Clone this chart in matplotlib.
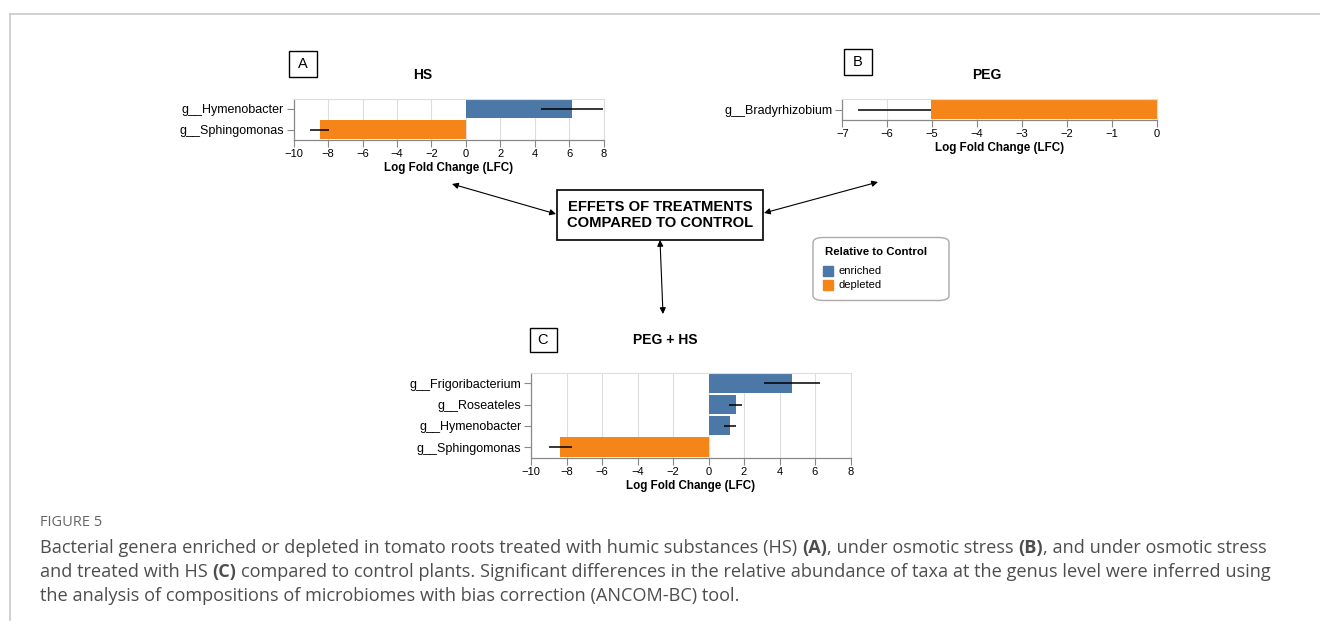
import matplotlib.pyplot as plt
from matplotlib.patches import FancyBboxPatch, Rectangle

# Log fold change per genus (ANCOM-BC), with error half-widths
hs_genera = ["g__Hymenobacter", "g__Sphingomonas"]
hs_lfc = [6.15, -8.5]
hs_err = [1.8, 0.55]

peg_genera = ["g__Bradyrhizobium"]
peg_lfc = [-5.03]
peg_err_low = [1.62]
peg_err_high = [0.0]

peghs_genera = ["g__Frigoribacterium", "g__Roseateles", "g__Hymenobacter", "g__Sphingomonas"]
peghs_lfc = [4.72, 1.53, 1.22, -8.35]
peghs_err = [1.58, 0.36, 0.34, 0.65]

legend_title = "Relative to Control"
legend_labels = ["enriched", "depleted"]

BLUE = "#4c78a8"
ORANGE = "#f58518"
W, H = 1320, 625

plt.rcParams["font.family"] = ["Liberation Sans", "DejaVu Sans"]
fig = plt.figure(figsize=(W / 100, H / 100), dpi=100)


def fx(x):
    return x / W


def fy(y):
    return 1 - y / H


def panel(left, top, right, bottom, genera, lfc, xerr, xlim, ticks):
    ax = fig.add_axes([fx(left), fy(bottom), fx(right - left), (bottom - top) / H])
    pos = list(range(len(genera)))
    colors = [BLUE if v > 0 else ORANGE for v in lfc]
    ax.barh(pos, lfc, height=0.91, color=colors, zorder=2)
    ax.errorbar(lfc, pos, xerr=xerr, fmt="none", ecolor="black",
                elinewidth=1.1, capsize=0, zorder=3)
    ax.set_xlim(*xlim)
    ax.set_ylim(len(genera) - 0.5, -0.5)
    ax.set_xticks(ticks)
    ax.set_xticklabels([f"{t:d}".replace("-", "\u2212") for t in ticks])
    ax.set_yticks(pos)
    ax.set_yticklabels(genera)
    ax.grid(axis="x", color="#dddddd", linewidth=0.8, zorder=0)
    ax.set_axisbelow(True)
    for s in ["top", "right"]:
        ax.spines[s].set_color("#dddddd")
        ax.spines[s].set_linewidth(0.8)
    for s in ["left", "bottom"]:
        ax.spines[s].set_color("#888888")
        ax.spines[s].set_linewidth(0.9)
    ax.tick_params(axis="x", length=5, color="#888888", labelsize=8, pad=1.5)
    ax.tick_params(axis="y", length=5, color="#888888", labelsize=9, pad=2)
    ax.set_xlabel("Log Fold Change (LFC)", fontsize=8.4, fontweight="bold", labelpad=2)
    return ax


def letter_box(left, top, right, bottom, letter):
    fig.patches.append(Rectangle((fx(left), fy(bottom)), fx(right - left), (bottom - top) / H,
                                 transform=fig.transFigure, fill=False,
                                 edgecolor="black", linewidth=1.0))
    fig.text(fx((left + right) / 2), fy((top + bottom) / 2), letter, ha="center",
             va="center", fontsize=10.5)


# panel A: HS
panel(293.7, 98.5, 603.5, 140, hs_genera, hs_lfc, hs_err, (-10, 8), list(range(-10, 9, 2)))
letter_box(289, 51, 317, 77, "A")
fig.text(fx(423), fy(75), "HS", ha="center", va="center", fontsize=10, fontweight="bold")

# panel B: PEG
panel(842.3, 99.3, 1156.7, 119.8, peg_genera, peg_lfc, [peg_err_low, peg_err_high],
      (-7, 0), list(range(-7, 1)))
letter_box(844, 49.5, 872, 75, "B")
fig.text(fx(987), fy(75), "PEG", ha="center", va="center", fontsize=10, fontweight="bold")

# panel C: PEG + HS
panel(531, 372.7, 850.5, 457.7, peghs_genera, peghs_lfc, peghs_err, (-10, 8), list(range(-10, 9, 2)))
letter_box(529.5, 327.5, 556.5, 351.5, "C")
fig.text(fx(665), fy(340), "PEG + HS", ha="center", va="center", fontsize=10, fontweight="bold")

# central box with arrows to each panel
fig.patches.append(Rectangle((fx(557), fy(240)), fx(206), 50 / H, transform=fig.transFigure,
                             fill=False, edgecolor="black", linewidth=1.2))
fig.text(fx(660), fy(215), "EFFETS OF TREATMENTS\nCOMPARED TO CONTROL", ha="center",
         va="center", fontsize=10.6, fontweight="bold", linespacing=1.25)
arrows = [((556, 214), (452, 184)), ((764, 213), (878, 182)), ((660, 240), (663, 314))]
for (x0, y0), (x1, y1) in arrows:
    fig.add_artist(plt.Annotation("", xy=(fx(x1), fy(y1)), xytext=(fx(x0), fy(y0)),
                                  xycoords="figure fraction", textcoords="figure fraction",
                                  arrowprops=dict(arrowstyle="<|-|>", color="black", lw=0.8,
                                                  mutation_scale=9, shrinkA=0, shrinkB=0)))

# legend
fig.patches.append(FancyBboxPatch((fx(813), fy(300.5)), fx(136), 63 / H,
                                  boxstyle="round,pad=0,rounding_size=0.008",
                                  transform=fig.transFigure, facecolor="white",
                                  edgecolor="#aaaaaa", linewidth=1.0))
fig.text(fx(825), fy(252), legend_title, ha="left", va="center", fontsize=8.2, fontweight="bold")
for i, (lab, col) in enumerate(zip(legend_labels, [BLUE, ORANGE])):
    yc = 270.5 + i * 14.5
    fig.patches.append(Rectangle((fx(823), fy(yc + 5)), fx(10), 10 / H,
                                 transform=fig.transFigure, color=col))
    fig.text(fx(838.5), fy(yc), lab, ha="left", va="center", fontsize=8)

# page frame lines
fig.add_artist(plt.Line2D([fx(9.5), 1], [fy(13.5), fy(13.5)], color="#c8c8c8", lw=1.2))
fig.add_artist(plt.Line2D([fx(9.5), fx(9.5)], [fy(13.5), fy(620)], color="#c8c8c8", lw=1.2))

# caption
cap_font = ["Open Sans", "DejaVu Sans"]
CAP_COLOR = "#4d4d4d"
fig.text(fx(40), fy(522), "FIGURE 5", ha="left", va="center", fontsize=10.5,
         color="#666666", family=cap_font)

renderer = fig.canvas.get_renderer()
cap_size = 13.1


def text_width(s, bold):
    t = fig.text(0, 0, s, fontsize=cap_size, family=cap_font,
                 fontweight="bold" if bold else "normal")
    w = t.get_window_extent(renderer).width
    t.remove()
    return w


space_w = text_width("x x", False) - text_width("xx", False)


def rich_line(x, y, parts):
    for s, bold in parts:
        lead = len(s) - len(s.lstrip(" "))
        x += lead * space_w
        body = s.strip(" ")
        t = fig.text(fx(x), fy(y), body, ha="left", va="center", fontsize=cap_size,
                     family=cap_font, color=CAP_COLOR,
                     fontweight="bold" if bold else "normal")
        x += t.get_window_extent(renderer).width
        x += (len(s) - len(s.rstrip(" "))) * space_w


rich_line(40, 548, [("Bacterial genera enriched or depleted in tomato roots treated with humic substances (HS) ", False),
                    ("(A)", True), (", under osmotic stress ", False), ("(B)", True),
                    (", and under osmotic stress", False)])
rich_line(40, 572, [("and treated with HS ", False), ("(C)", True),
                    (" compared to control plants. Significant differences in the relative abundance of taxa at the genus level were inferred using", False)])
rich_line(40, 596, [("the analysis of compositions of microbiomes with bias correction (ANCOM-BC) tool.", False)])

fig.savefig("out.png", dpi=100)
